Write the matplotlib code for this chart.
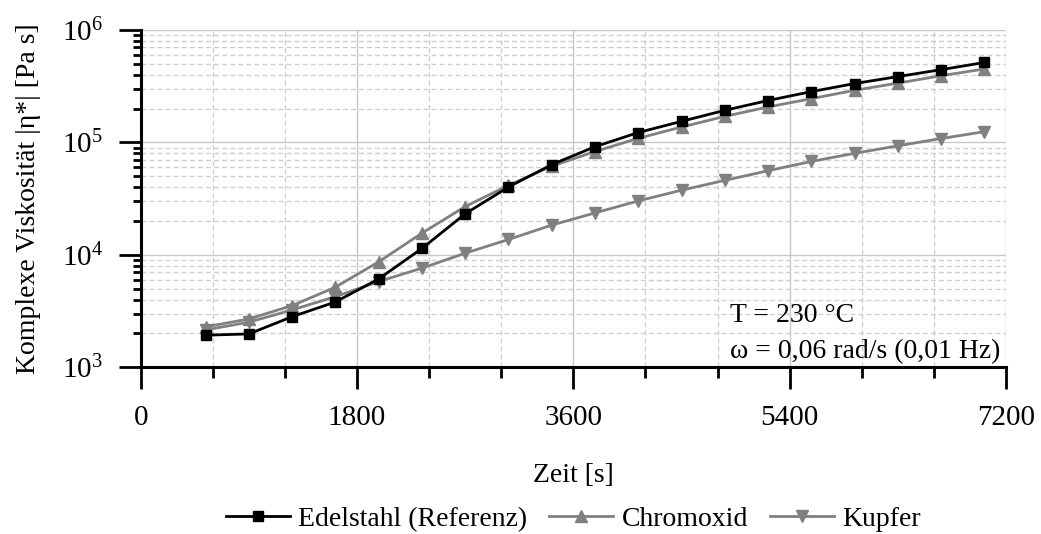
import numpy as np
import matplotlib
matplotlib.use('Agg')
import matplotlib.pyplot as plt
from matplotlib.ticker import MultipleLocator, LogLocator, NullFormatter
from matplotlib.lines import Line2D

plt.rcParams['font.family'] = ['Liberation Serif', 'DejaVu Serif']
plt.rcParams['mathtext.fontset'] = 'custom'
plt.rcParams['mathtext.rm'] = 'Liberation Serif'
plt.rcParams['mathtext.it'] = 'Liberation Serif:italic'

# Zeit [s]
zeit = [540, 900, 1260, 1620, 1980, 2340, 2700, 3060, 3420, 3780,
        4140, 4500, 4860, 5220, 5580, 5940, 6300, 6660, 7020]

# komplexe Viskositaet [Pa s]
edelstahl = [1930, 1980, 2820, 3810, 6110, 11400, 23200, 40100, 63500, 91600,
             122500, 154000, 193000, 236000, 283000, 334000, 385000, 444000, 514000]
chromoxid = [2290, 2690, 3540, 5160, 8670, 15600, 26900, 41500, 61500, 83000,
             108800, 137000, 170500, 206700, 245000, 291000, 337000, 392000, 450000]
kupfer = [2150, 2520, 3240, 4250, 5790, 7620, 10350, 13700, 18400, 23600,
          30200, 37600, 46000, 56000, 67700, 80000, 93300, 108300, 124600]

grau = '#808080'

fig = plt.figure(figsize=(10.41, 5.34), dpi=100)
ax = fig.add_axes([140.7/1041, 1-367.3/534, 865.3/1041, 337.3/534])

ax.set_yscale('log')
ax.set_xlim(0, 7200)
ax.set_ylim(1e3, 1e6)

ax.plot(zeit, edelstahl, '-s', color='black', lw=2, ms=6.5, zorder=5)
ax.plot(zeit, chromoxid, '-^', color=grau, lw=2, ms=8, zorder=4)
ax.plot(zeit, kupfer, '-v', color=grau, lw=2, ms=8, zorder=4)

ax.xaxis.set_major_locator(MultipleLocator(1800))
ax.xaxis.set_minor_locator(MultipleLocator(600))
ax.yaxis.set_major_locator(LogLocator(base=10))
ax.yaxis.set_minor_locator(LogLocator(base=10, subs=np.arange(2, 10)))
ax.yaxis.set_minor_formatter(NullFormatter())

ax.grid(which='major', color='#c8c8c8', lw=1, ls='-')
ax.grid(which='minor', color='#cfcfcf', lw=1, ls=(0, (3.6, 2.2)))
ax.set_axisbelow(True)

for s in ['top', 'right']:
    ax.spines[s].set_visible(False)
for s in ['left', 'bottom']:
    ax.spines[s].set_linewidth(2.2)

ax.tick_params(which='major', direction='out', length=16, width=2, labelsize=21, pad=11)
ax.tick_params(axis='x', which='minor', direction='out', length=8, width=2)
ax.tick_params(axis='y', which='minor', direction='out', length=6, width=2)

fig.text(29/1041, 1-198.6/534, 'Komplexe Viskosität |η*| [Pa s]', rotation=90,
         ha='center', va='center', fontsize=20)
fig.text(573.5/1041, 1-476/534, 'Zeit [s]', ha='center', va='center', fontsize=20)

fig.text(729.5/1041, 1-315/534, 'T = 230 °C', ha='left', va='center', fontsize=20)
fig.text(729.5/1041, 1-352/534, 'ω = 0,06 rad/s (0,01 Hz)', ha='left', va='center', fontsize=20)

handles = [Line2D([], [], color='black', lw=2, marker='s', ms=6.5),
           Line2D([], [], color=grau, lw=2, marker='^', ms=8),
           Line2D([], [], color=grau, lw=2, marker='v', ms=8)]
fig.legend(handles, ['Edelstahl (Referenz)', 'Chromoxid', 'Kupfer'], loc='center',
           bbox_to_anchor=(573.5/1041, 1-519/534), ncol=3, frameon=False, fontsize=20,
           handlelength=2.3, handletextpad=0.3, columnspacing=0.8, borderpad=0)

fig.savefig('out.png', dpi=100)
